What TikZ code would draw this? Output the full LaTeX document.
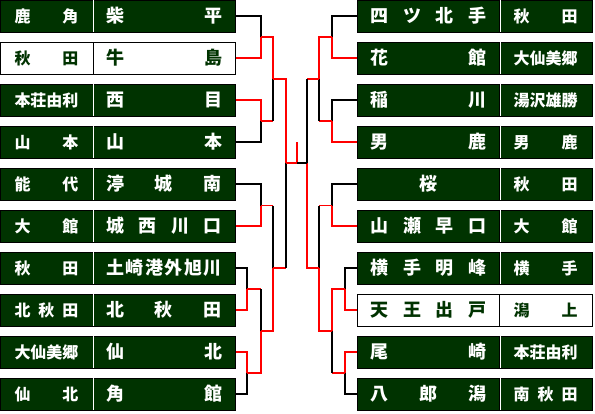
\documentclass[tikz,border=0pt]{standalone}
\usepackage{fontspec}
\newfontfamily\jp{Noto Sans CJK JP}
\usepackage{tikz}
\usetikzlibrary{positioning,calc}
\definecolor{cellgreen}{RGB}{0,51,0}

\newcommand{\sname}[1]{\makebox[64pt][s]{#1}}
\newcommand{\tname}[1]{\makebox[116pt][s]{#1}}

\begin{document}
\begin{tikzpicture}[x=1pt, y=-1pt,
  cell/.style={draw=black, line width=1pt, fill=cellgreen, text=white,
               inner sep=0pt, minimum height=32pt, anchor=center},
  sc/.style={cell, minimum width=93pt, font=\jp\bfseries\fontsize{16}{16}\selectfont},
  tm/.style={cell, minimum width=142pt, font=\jp\bfseries\fontsize{18}{18}\selectfont},
  champ/.style={fill=white, text=cellgreen},
  divw/.style={white, line width=1pt},
  win/.style={red, line width=1.2pt},
  lose/.style={black, line width=1.2pt},
]
  \useasboundingbox (0,0) rectangle (595,413);

  % left block
  \node[sc]        (L1s)  at (46.5,16)  {\sname{鹿\hfill 角}};
  \node[tm]        (L1t)  at (164,16)   {\tname{柴\hfill 平}};
  \node[sc,champ]  (L2s)  at (46.5,58)  {\sname{秋\hfill 田}};
  \node[tm,champ]  (L2t)  at (164,58)   {\tname{牛\hfill 島}};
  \node[sc]        (L3s)  at (46.5,100) {\sname{本\hfill 荘\hfill 由\hfill 利}};
  \node[tm]        (L3t)  at (164,100)  {\tname{西\hfill 目}};
  \node[sc]        (L4s)  at (46.5,142) {\sname{山\hfill 本}};
  \node[tm]        (L4t)  at (164,142)  {\tname{山\hfill 本}};
  \node[sc]        (L5s)  at (46.5,184) {\sname{能\hfill 代}};
  \node[tm]        (L5t)  at (164,184)  {\tname{渟\hfill 城\hfill 南}};
  \node[sc]        (L6s)  at (46.5,226) {\sname{大\hfill 館}};
  \node[tm]        (L6t)  at (164,226)  {\tname{城\hfill 西\hfill 川\hfill 口}};
  \node[sc]        (L7s)  at (46.5,268) {\sname{秋\hfill 田}};
  \node[tm]        (L7t)  at (164,268)  {\tname{土\hfill 崎\hfill 港\hfill 外\hfill 旭\hfill 川}};
  \node[sc]        (L8s)  at (46.5,310) {\sname{北\hfill 秋\hfill 田}};
  \node[tm]        (L8t)  at (164,310)  {\tname{北\hfill 秋\hfill 田}};
  \node[sc]        (L9s)  at (46.5,352) {\sname{大\hfill 仙\hfill 美\hfill 郷}};
  \node[tm]        (L9t)  at (164,352)  {\tname{仙\hfill 北}};
  \node[sc]        (L10s) at (46.5,394) {\sname{仙\hfill 北}};
  \node[tm]        (L10t) at (164,394)  {\tname{角\hfill 館}};

  % right block
  \node[tm]        (R1t)  at (428.5,16)  {\tname{四\hfill ツ\hfill 北\hfill 手}};
  \node[sc]        (R1s)  at (545.5,16)  {\sname{秋\hfill 田}};
  \node[tm]        (R2t)  at (428.5,58)  {\tname{花\hfill 館}};
  \node[sc]        (R2s)  at (545.5,58)  {\sname{大\hfill 仙\hfill 美\hfill 郷}};
  \node[tm]        (R3t)  at (428.5,100) {\tname{稲\hfill 川}};
  \node[sc]        (R3s)  at (545.5,100) {\sname{湯\hfill 沢\hfill 雄\hfill 勝}};
  \node[tm]        (R4t)  at (428.5,142) {\tname{男\hfill 鹿}};
  \node[sc]        (R4s)  at (545.5,142) {\sname{男\hfill 鹿}};
  \node[tm]        (R5t)  at (428.5,184) {\makebox[116pt]{桜}};
  \node[sc]        (R5s)  at (545.5,184) {\sname{秋\hfill 田}};
  \node[tm]        (R6t)  at (428.5,226) {\tname{山\hfill 瀬\hfill 早\hfill 口}};
  \node[sc]        (R6s)  at (545.5,226) {\sname{大\hfill 館}};
  \node[tm]        (R7t)  at (428.5,268) {\tname{横\hfill 手\hfill 明\hfill 峰}};
  \node[sc]        (R7s)  at (545.5,268) {\sname{横\hfill 手}};
  \node[tm,champ]  (R8t)  at (428.5,310) {\tname{天\hfill 王\hfill 出\hfill 戸}};
  \node[sc,champ]  (R8s)  at (545.5,310) {\sname{潟\hfill 上}};
  \node[tm]        (R9t)  at (428.5,352) {\tname{尾\hfill 崎}};
  \node[sc]        (R9s)  at (545.5,352) {\sname{本\hfill 荘\hfill 由\hfill 利}};
  \node[tm]        (R10t) at (428.5,394) {\tname{八\hfill 郎\hfill 潟}};
  \node[sc]        (R10s) at (545.5,394) {\sname{南\hfill 秋\hfill 田}};

  % white dividers in green rows
  \foreach \n in {L1s,L3s,L4s,L5s,L6s,L7s,L8s,L9s,L10s,
                  R1t,R2t,R3t,R4t,R5t,R6t,R7t,R9t,R10t}
    \draw[divw] ([yshift=-0.5pt]\n.north east) -- ([yshift=0.5pt]\n.south east);

  % junctions
  \coordinate (m1) at (261,37);   \coordinate (m2) at (261,121);
  \coordinate (m3) at (261,205.5); \coordinate (m4) at (247,289);
  \coordinate (m5) at (247,373);
  \coordinate (q1) at (273,79);   \coordinate (q2) at (261,331);
  \coordinate (q3) at (273,268);  \coordinate (s1) at (286,163);
  \coordinate (n1) at (332,37);   \coordinate (n2) at (332,121);
  \coordinate (n3) at (332,205.5); \coordinate (n4) at (345,289);
  \coordinate (n5) at (345,373);
  \coordinate (p1) at (319,79);   \coordinate (p2) at (332,331);
  \coordinate (p3) at (319,268);  \coordinate (s2) at (307,163);
  \coordinate (fin) at (297,163); \coordinate (top) at (297,142);

  % left bracket
  \draw[lose] (L1t.east) -| (m1);  \draw[win]  (L2t.east) -| (m1);
  \draw[win]  (L3t.east) -| (m2);  \draw[lose] (L4t.east) -| (m2);
  \draw[lose] (L5t.east) -| (m3);  \draw[win]  (L6t.east) -| (m3);
  \draw[lose] (L7t.east) -| (m4);  \draw[win]  (L8t.east) -| (m4);
  \draw[win]  (L9t.east) -| (m5);  \draw[lose] (L10t.east) -| (m5);
  \draw[win]  (m1) -| (q1);
  \draw[win]  (m2) -- (m2 -| q1);  \draw[lose] (m2 -| q1) -- (q1);
  \draw[win]  (m4) -- (m4 -| q2);  \draw[lose] (m4 -| q2) -- (q2);
  \draw[win]  (m5) -| (q2);
  \draw[win]  (m3) -- (m3 -| q3);  \draw[lose] (m3 -| q3) -- (q3);
  \draw[win]  (q2) -| (q3);
  \draw[win]  (q1) -| (s1);
  \draw[win]  (q3) -- (q3 -| s1);  \draw[lose] (q3 -| s1) -- (s1);

  % right bracket
  \draw[lose] (R1t.west) -| (n1);  \draw[win]  (R2t.west) -| (n1);
  \draw[lose] (R3t.west) -| (n2);  \draw[win]  (R4t.west) -| (n2);
  \draw[lose] (R5t.west) -| (n3);  \draw[win]  (R6t.west) -| (n3);
  \draw[lose] (R7t.west) -| (n4);  \draw[win]  (R8t.west) -| (n4);
  \draw[win]  (R9t.west) -| (n5);  \draw[lose] (R10t.west) -| (n5);
  \draw[win]  (n1) -| (p1);
  \draw[win]  (n2) -- (n2 -| p1);  \draw[lose] (n2 -| p1) -- (p1);
  \draw[win]  (n4) -| (p2);
  \draw[win]  (n5) -- (n5 -| p2);  \draw[lose] (n5 -| p2) -- (p2);
  \draw[win]  (n3) -- (n3 -| p3);  \draw[lose] (n3 -| p3) -- (p3);
  \draw[win]  (p2) -| (p3);
  \draw[win]  (p1) -- (p1 -| s2);  \draw[lose] (p1 -| s2) -- (s2);
  \draw[win]  (p3) -| (s2);

  % final
  \draw[win]  (s1) -- (fin) -- (top);
  \draw[lose] (s2) -- (fin);
\end{tikzpicture}
\end{document}
